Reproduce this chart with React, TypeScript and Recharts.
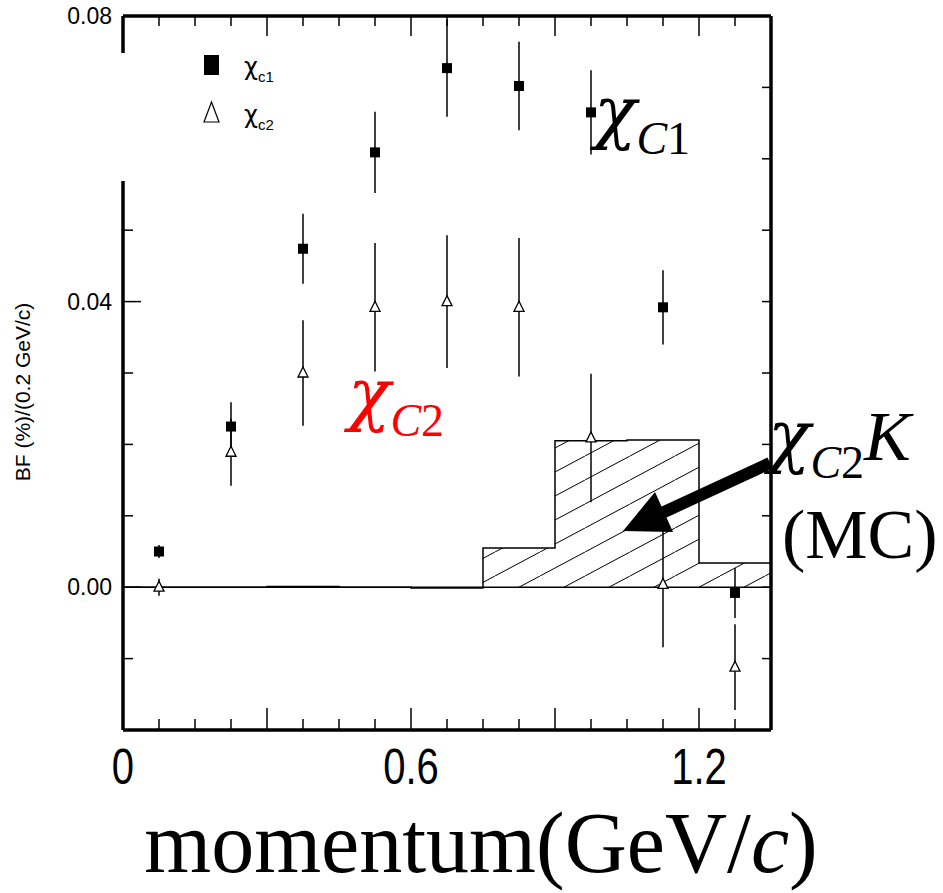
import React from "react";
import {
  ComposedChart,
  Area,
  Scatter,
  ErrorBar,
  XAxis,
  YAxis,
  ReferenceLine,
  Legend,
} from "recharts";

// bin centres (GeV/c)
const binCenters = [0.075, 0.225, 0.375, 0.525, 0.675, 0.825, 0.975, 1.125, 1.275];

// chi_c1 K (filled squares)
const chic1Values = [0.005, 0.0225, 0.0474, 0.0609, 0.0727, 0.0702, 0.0665, 0.0392, -0.0008];
const chic1Errors = [0.0009, 0.0034, 0.0049, 0.0057, 0.0068, 0.0062, 0.0059, 0.0052, 0.0035];

// chi_c2 K (open triangles)
const chic2Values = [0.0, 0.0189, 0.03, 0.0392, 0.04, 0.0392, 0.0209, 0.0004, -0.0112];
const chic2Errors = [0.0012, 0.0047, 0.0074, 0.009, 0.0093, 0.0097, 0.009, 0.0088, 0.006];

// chi_c2 K MC histogram (left bin edges, step after)
const mcEdges = [0, 0.3, 0.45, 0.6, 0.75, 0.9, 1.05, 1.2, 1.35];
const mcValues = [0, 0.0001, 0, -0.0001, 0.0055, 0.0205, 0.0206, 0.0034, 0.0034];

const xTicks = [0, 0.075, 0.15, 0.225, 0.3, 0.375, 0.45, 0.525, 0.6, 0.675, 0.75, 0.825, 0.9, 0.975, 1.05, 1.125, 1.2, 1.275, 1.35];
const xLabelAt = [0, 0.6, 1.2];
const xLabelText = ["0", "0.6", "1.2"];

const yTicks = [-0.02, -0.01, 0, 0.01, 0.02, 0.03, 0.04, 0.05, 0.06, 0.07, 0.08];
const yLabelAt = [0, 0.04, 0.08];
const yLabelText = ["0.00", "0.04", "0.08"];

const X_MIN = 0;
const X_MAX = 1.35;
const Y_MIN = -0.02;
const Y_MAX = 0.08;

const W = 943;
const H = 893;
const SANS = "'Liberation Sans', Arial, sans-serif";
const SERIF = "'Liberation Serif', 'Times New Roman', serif";
const CHI = "'DejaVu Serif', serif";

const mcData = mcEdges.map((x, i) => ({ x, mc: mcValues[i] }));
const c1Data = binCenters.map((x, i) => ({ x, y: chic1Values[i], err: chic1Errors[i] }));
const c2Data = binCenters.map((x, i) => ({ x, y: chic2Values[i], err: chic2Errors[i] }));

const near = (a: number, b: number) => Math.abs(a - b) < 1e-9;
const labelFor = (v: number, at: number[], text: string[]) => {
  const i = at.findIndex((a) => near(a, v));
  return i < 0 ? null : text[i];
};
const isMajorX = (v: number) => near(v / 0.3, Math.round(v / 0.3));

function BottomTick(props: any) {
  const { x, y, payload } = props;
  const v = payload.value;
  const len = isMajorX(v) ? 22 : 11;
  const label = labelFor(v, xLabelAt, xLabelText);
  return (
    <g>
      <line x1={x} x2={x} y1={y} y2={y - len} stroke="#000" strokeWidth={1.5} />
      {label && (
        <text
          transform={`translate(${x},${y + 54}) scale(0.8,1)`}
          textAnchor="middle"
          fontFamily={SANS}
          fontSize={50}
          fill="#000"
        >
          {label}
        </text>
      )}
    </g>
  );
}

function TopTick(props: any) {
  const { x, y, payload } = props;
  const len = isMajorX(payload.value) ? 20 : 10;
  return <line x1={x} x2={x} y1={y} y2={y + len} stroke="#000" strokeWidth={1.5} />;
}

function LeftTick(props: any) {
  const { x, y, payload } = props;
  const label = labelFor(payload.value, yLabelAt, yLabelText);
  const len = label ? 18 : 10;
  return (
    <g>
      <line x1={x} x2={x + len} y1={y} y2={y} stroke="#000" strokeWidth={1.5} />
      {label && (
        <text x={x - 11} y={y + 8} textAnchor="end" fontFamily={SANS} fontSize={23} fill="#000">
          {label}
        </text>
      )}
    </g>
  );
}

function RightTick(props: any) {
  const { x, y } = props;
  return <line x1={x} x2={x - 9} y1={y} y2={y} stroke="#000" strokeWidth={1.5} />;
}

const SquareMark = (p: any) => (
  <rect x={p.cx - 5} y={p.cy - 5} width={10} height={10} fill="#000" />
);

const TriangleMark = (p: any) => (
  <path
    d={`M${p.cx},${p.cy - 6} L${p.cx + 5},${p.cy + 4} L${p.cx - 5},${p.cy + 4} Z`}
    fill="#fff"
    stroke="#000"
    strokeWidth={1.3}
  />
);

function LegendBox() {
  return (
    <svg width={160} height={128} style={{ display: "block" }}>
      <rect x={85} y={2} width={15} height={20} fill="#000" />
      <text x={125} y={22} fontFamily="'DejaVu Sans', sans-serif" fontSize={24} fill="#000">
        χ<tspan fontFamily={SANS} fontSize={15} dy={7}>c1</tspan>
      </text>
      <path d="M92.5,49 L100,69 L85,69 Z" fill="none" stroke="#000" strokeWidth={1.2} />
      <text x={125} y={70} fontFamily="'DejaVu Sans', sans-serif" fontSize={24} fill="#000">
        χ<tspan fontFamily={SANS} fontSize={15} dy={7}>c2</tspan>
      </text>
    </svg>
  );
}

const frame = { stroke: "#000", strokeWidth: 3.5, ifOverflow: "visible" as const };

export default function App() {
  return (
    <div style={{ position: "absolute", left: 0, top: 0, width: W, height: H, background: "#fff" }}>
      <ComposedChart
        width={W}
        height={H}
        data={mcData}
        margin={{ top: 15, right: 171, bottom: 162, left: 122 }}
      >
        <defs>
          <pattern id="hatch" patternUnits="userSpaceOnUse" width={45} height={24}>
            <path d="M0,24 L45,0 M-45,24 L0,0 M45,24 L90,0" stroke="#000" strokeWidth={1} />
          </pattern>
        </defs>
        <XAxis
          type="number"
          dataKey="x"
          domain={[X_MIN, X_MAX]}
          ticks={xTicks}
          interval={0}
          allowDataOverflow
          height={1}
          tickSize={0}
          tickMargin={0}
          tickLine={false}
          axisLine={false}
          tick={(p: any) => <BottomTick {...p} />}
        />
        <XAxis
          xAxisId="top"
          orientation="top"
          type="number"
          dataKey="x"
          domain={[X_MIN, X_MAX]}
          ticks={xTicks}
          interval={0}
          allowDataOverflow
          height={1}
          tickSize={0}
          tickMargin={0}
          tickLine={false}
          axisLine={false}
          tick={(p: any) => <TopTick {...p} />}
        />
        <YAxis
          type="number"
          domain={[Y_MIN, Y_MAX]}
          ticks={yTicks}
          interval={0}
          allowDataOverflow
          width={1}
          tickSize={0}
          tickMargin={0}
          tickLine={false}
          axisLine={false}
          tick={(p: any) => <LeftTick {...p} />}
        />
        <YAxis
          yAxisId="right"
          orientation="right"
          type="number"
          domain={[Y_MIN, Y_MAX]}
          ticks={yTicks}
          interval={0}
          allowDataOverflow
          width={1}
          tickSize={0}
          tickMargin={0}
          tickLine={false}
          axisLine={false}
          tick={(p: any) => <RightTick {...p} />}
        />
        <Area
          type="stepAfter"
          dataKey="mc"
          stroke="#000"
          strokeWidth={1.5}
          fill="url(#hatch)"
          fillOpacity={1}
          baseValue={0}
          dot={false}
          activeDot={false}
          isAnimationActive={false}
        />
        <ReferenceLine y={0} stroke="#000" strokeWidth={1.5} />
        {/* plot frame */}
        <ReferenceLine x={X_MIN} {...frame} />
        <ReferenceLine x={X_MAX} {...frame} />
        <ReferenceLine y={Y_MIN} {...frame} />
        <ReferenceLine y={Y_MAX} {...frame} />
        <Scatter data={c1Data} dataKey="y" shape={SquareMark} isAnimationActive={false}>
          <ErrorBar dataKey="err" direction="y" width={0} stroke="#000" strokeWidth={1.5} />
        </Scatter>
        <Scatter data={c2Data} dataKey="y" shape={TriangleMark} isAnimationActive={false}>
          <ErrorBar dataKey="err" direction="y" width={0} stroke="#000" strokeWidth={1.5} />
        </Scatter>
        <Legend
          layout="vertical"
          align="center"
          verticalAlign="middle"
          content={() => <LegendBox />}
          wrapperStyle={{ left: 119, top: 53, width: 160, height: 128, background: "#fff", margin: 0 }}
        />
      </ComposedChart>

      <svg
        width={W}
        height={H}
        style={{ position: "absolute", left: 0, top: 0, pointerEvents: "none" }}
      >
        <text
          transform="translate(30,392) rotate(-90)"
          textAnchor="middle"
          fontFamily={SANS}
          fontSize={21}
          fill="#000"
        >
          BF (%)/(0.2 GeV/c)
        </text>

        <text x={594} y={136} fontFamily={SERIF} fontSize={70} fill="#000">
          <tspan fontFamily={CHI} fontStyle="italic" fontSize={70}>χ</tspan>
          <tspan fontStyle="italic" fontSize={46} dy={18}>C</tspan>
          <tspan fontSize={46}>1</tspan>
        </text>

        <text x={348} y={418} fontFamily={SERIF} fontSize={70} fill="#ff0000">
          <tspan fontFamily={CHI} fontStyle="italic" fontSize={70}>χ</tspan>
          <tspan fontStyle="italic" fontSize={46} dy={18}>C</tspan>
          <tspan fontSize={46}>2</tspan>
        </text>

        <text x={768} y={460} fontFamily={SERIF} fontSize={70} fill="#000">
          <tspan fontFamily={CHI} fontStyle="italic" fontSize={70}>χ</tspan>
          <tspan fontStyle="italic" fontSize={46} dy={18}>C</tspan>
          <tspan fontSize={46}>2</tspan>
          <tspan fontStyle="italic" dy={-18}>K</tspan>
        </text>
        <text x={782} y={558} fontFamily={SERIF} fontSize={70} fill="#000">
          (MC)
        </text>

        <line x1={770} y1={463} x2={662} y2={513} stroke="#000" strokeWidth={12} />
        <path d="M623,531 L655,492 L673,532 Z" fill="#000" />

        <text x={481} y={872} textAnchor="middle" fontFamily={SERIF} fontSize={86} fill="#000">
          momentum(GeV/<tspan fontStyle="italic">c</tspan>)
        </text>
      </svg>
    </div>
  );
}
